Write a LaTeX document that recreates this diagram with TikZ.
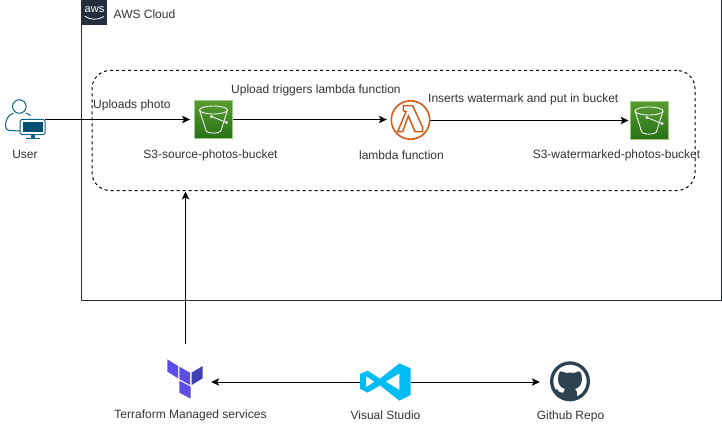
\documentclass[tikz,border=0pt]{standalone}
\usepackage{fontspec}
\setmainfont{Liberation Sans}
\usetikzlibrary{arrows.meta}
\definecolor{awsdark}{HTML}{232F3E}
\definecolor{txt}{HTML}{333333}
\definecolor{usr}{HTML}{0F6283}
\definecolor{usrfill}{HTML}{005073}
\definecolor{lamc}{HTML}{D05C17}
\definecolor{tfa}{HTML}{5C4EE5}
\definecolor{tfb}{HTML}{4040B2}
\definecolor{vsc}{HTML}{00BCF2}
\definecolor{ghc}{HTML}{2C4251}
\definecolor{sthi}{HTML}{60A337}
\definecolor{stlo}{HTML}{277116}
\tikzset{
  lbl/.style={inner sep=0pt,text=txt,font=\fontsize{12}{14}\selectfont},
  iconbox/.style={inner sep=0pt,minimum width=#1,minimum height=#1,draw=none},
  conn/.style={draw=black,line width=1pt,-{Stealth[length=8pt,width=7.5pt,inset=2pt]}},
  bucketline/.style={draw=white,line width=0.9pt,opacity=.92},
}
\newcommand{\bucketicon}[1]{%
  \begin{scope}[shift={(#1)}]
    \fill[top color=sthi!85!stlo,bottom color=stlo,draw=sthi!60!white,line width=.7pt] (-19,-19) rectangle (19,19);
    \draw[bucketline] (-14,-9.5) arc[start angle=180,end angle=540,x radius=14,y radius=4];
    \draw[bucketline] (-14,-9.5) -- (-7.5,11) arc[start angle=180,end angle=0,x radius=7.5,y radius=2.6] -- (14,-9.5);
    \draw[bucketline] (-2,-3) -- (13,3);
    \draw[bucketline,fill=stlo] (-2,-3) circle (.9);
    \draw[bucketline,fill=stlo] (13,3) circle (.9);
  \end{scope}}
\begin{document}
\begin{tikzpicture}[x=1pt,y=-1pt]
\useasboundingbox (0,0) rectangle (722,433);
\fill[white] (0,0) rectangle (722,433);
% AWS cloud
\node[draw=awsdark,line width=1pt,inner sep=0pt,minimum width=640pt,minimum height=300pt] (cloud) at (401.5,150) {};
\node[fill=awsdark,inner sep=0pt,minimum width=25pt,minimum height=25pt] (awslogo) at (94.5,12.5) {};
\node[inner sep=0pt,text=white,font=\fontsize{11}{12}\selectfont] (awstext) at (94.5,10) {aws};
\draw[white,line width=.8pt] (84.5,16) .. controls (90,20) and (98,20.5) .. (104,16.5);
\node[lbl,anchor=west] (cloudlbl) at (113.5,14) {AWS Cloud};
% dashed group
\node[draw=black,line width=1pt,dash pattern=on 3pt off 3pt,rounded corners=18pt,inner sep=0pt,minimum width=603pt,minimum height=120pt] (grp) at (393.5,130.5) {};
% icon holders
\node[iconbox=40pt] (user) at (25,119.5) {};
\node[iconbox=38.5pt] (src) at (213.5,119.5) {};
\node[iconbox=39pt] (lam) at (410.5,120) {};
\node[iconbox=38.5pt] (dst) at (649,120.5) {};
\node[inner sep=0pt,minimum width=36pt,minimum height=40pt] (tf) at (185,379) {};
\node[inner sep=0pt,minimum width=51pt,minimum height=38pt] (vs) at (385.5,382) {};
\node[iconbox=40pt] (gh) at (570,381.5) {};
\coordinate (tftop) at (185.5,344);
\coordinate (grpin) at (185.5,191.5);
% connectors
\draw[conn,shorten >=4pt] (src.west -| user.east) -- (src.west);
\draw[conn,shorten >=4pt] (src.east) -- (src.east -| lam.west);
\draw[conn,shorten >=1pt] (dst.west -| lam.east) -- (dst.west);
\draw[conn] (tftop) -- (grpin);
\draw[conn,shorten >=8pt] (vs.west) -- (vs.west -| tf.east);
\draw[conn,shorten >=10pt] (vs.east) -- (vs.east -| gh.west);
% user icon
\draw[usr,line width=1pt] (19.3,106.5) circle (6.8);
\draw[usr,line width=1pt] (30.5,115.5) .. controls (28,114) and (27,113.5) .. (25.5,113)
   (13.5,113) .. controls (8,115) and (5.5,120) .. (5.5,126) .. controls (5.5,128.5) and (7,130) .. (9,130.5) -- (20,131);
\fill[white,draw=usr,line width=1pt,rounded corners=1.5pt] (20,119.5) rectangle (45,134.5);
\fill[usrfill] (22.5,121.5) rectangle (42.5,132);
\fill[usr] (30.5,134.5) rectangle (34.5,137.5);
\fill[usr] (25.5,137.5) rectangle (39.5,139);
% buckets
\bucketicon{213.5,119.5}
\bucketicon{649,120.5}
% lambda
\draw[lamc,line width=1.6pt] (lam.center) circle (19.2);
\begin{scope}[shift={(350,80)},scale=1/3]
\draw[lamc,line width=1.5pt,line join=miter] (160,77) -- (188,77) -- (218,142) -- (218,155) -- (195,155) -- (175,108) -- (158,155) -- (143,155) -- (168,95) -- (160,92) -- cycle;
\end{scope}
% terraform
\begin{scope}[shift={(100,340)},scale=1/3]
\fill[tfa] (202,58) -- (234,78) -- (234,115) -- (202,95) -- cycle;
\fill[tfa] (238,80) -- (270,98) -- (270,135) -- (238,117) -- cycle;
\fill[tfb] (275,98) -- (308,78) -- (308,115) -- (275,135) -- cycle;
\fill[tfa] (238,122) -- (272,140) -- (272,176) -- (238,158) -- cycle;
\end{scope}
% visual studio
\begin{scope}[shift={(340,340)},scale=1/3]
\fill[vsc,even odd rule] (178,70) -- (212,85) -- (212,165) -- (178,182) -- (120,136) -- (83,158) -- (60,146) -- (60,102) -- (83,92) -- (120,116) -- cycle
  (178,100) -- (178,150) -- (137,125) -- cycle
  (78,108) -- (78,142) -- (103,125) -- cycle;
\end{scope}
% github
\begin{scope}[shift={(340,340)},scale=1/3]
\fill[ghc,even odd rule] (690,124) circle (60) (690,124) circle (50);
\clip (690,124) circle (52);
\fill[ghc] (654,118) .. controls (654,108) and (656,100) .. (660,94) .. controls (668,94) and (674,97) .. (678,99)
  .. controls (685,97) and (695,97) .. (702,99) .. controls (706,97) and (712,94) .. (720,94)
  .. controls (724,100) and (726,108) .. (726,118) .. controls (726,136) and (714,145) .. (705,147)
  .. controls (709,150) and (711,155) .. (711,162) -- (711,180) -- (669,180) -- (669,168)
  .. controls (660,170) and (652,166) .. (646,150) -- (651,147) .. controls (656,156) and (662,160) .. (670,158)
  .. controls (670,153) and (672,150) .. (675,147) .. controls (666,145) and (654,136) .. (654,118) -- cycle;
\end{scope}
% labels
\node[lbl] (userlbl) at (25,154) {User};
\node[lbl,anchor=west] (l1) at (93,105) {Uploads photo};
\node[lbl,anchor=west] (l2) at (231,90.5) {Upload triggers lambda function};
\node[lbl,anchor=west] (l3) at (428,99) {Inserts watermark and put in bucket};
\node[lbl] (srclbl) at (210.5,155) {S3-source-photos-bucket};
\node[lbl] (lamlbl) at (401.5,155.5) {lambda function};
\node[lbl] (dstlbl) at (616.5,155.5) {S3-watermarked-photos-bucket};
\node[lbl] (tflbl) at (190.5,415.5) {Terraform Managed services};
\node[lbl] (vslbl) at (385.5,415) {Visual Studio};
\node[lbl] (ghlbl) at (570.5,416) {Github Repo};
\end{tikzpicture}
\end{document}
